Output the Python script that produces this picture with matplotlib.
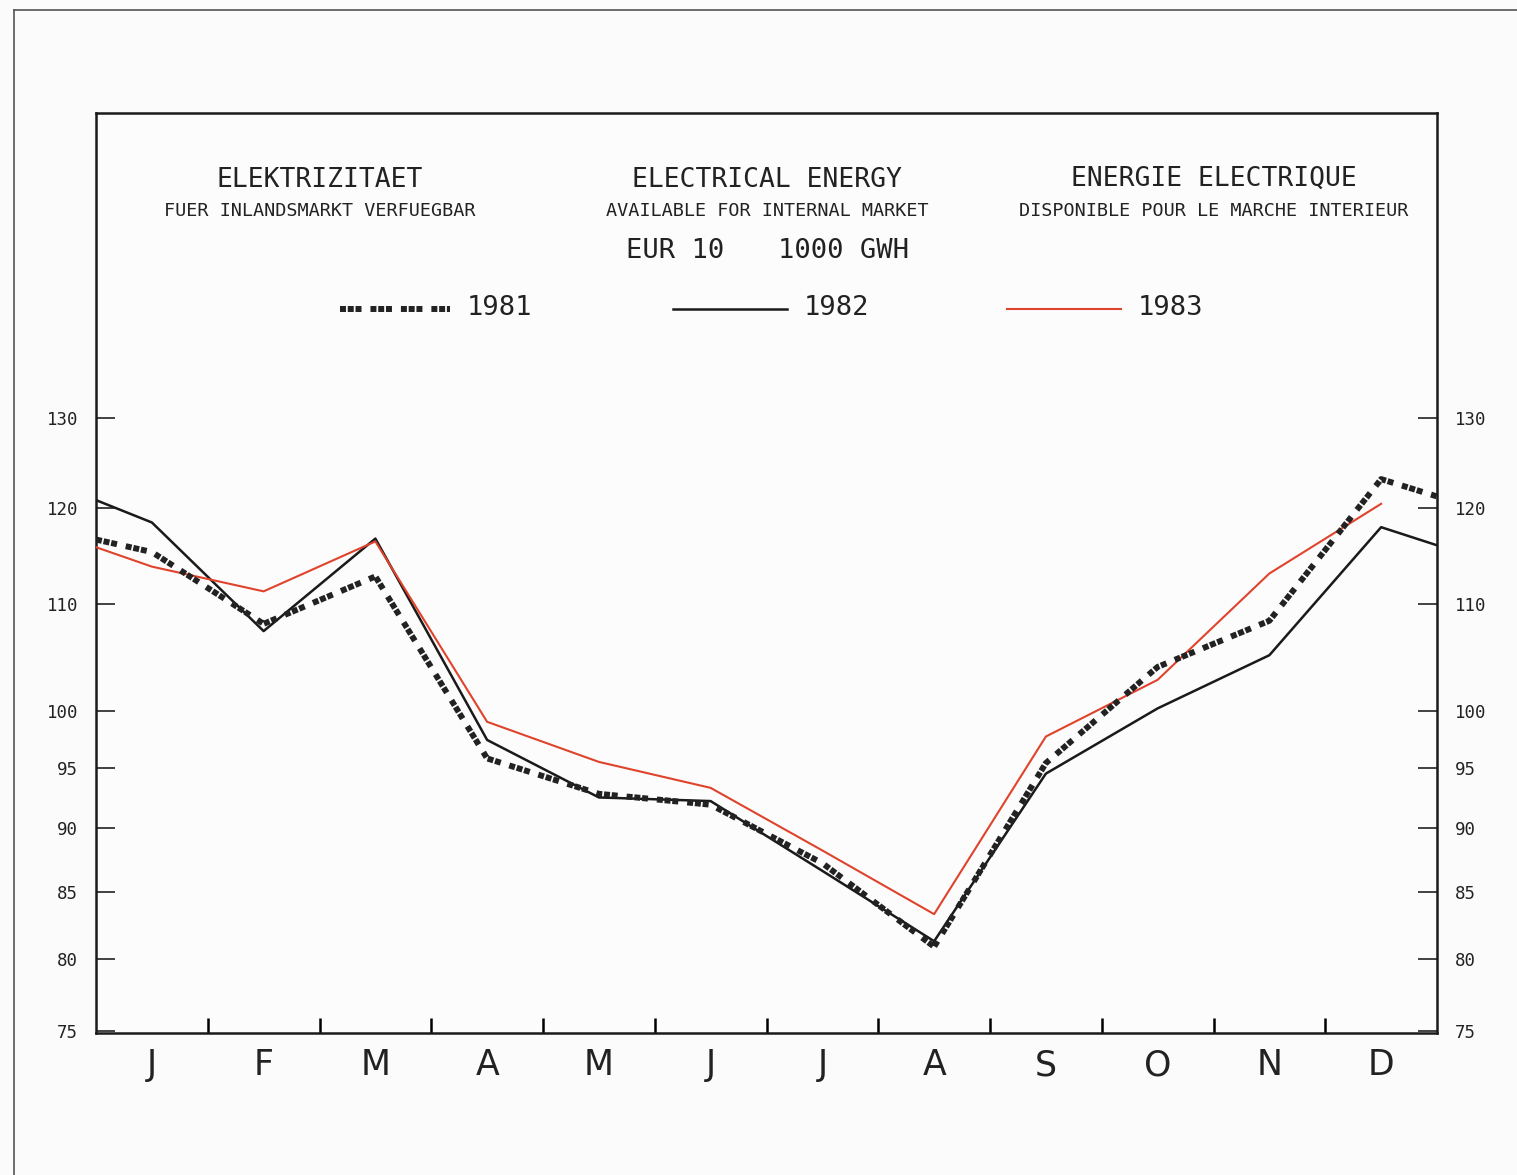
import numpy as np
import matplotlib.pyplot as plt
from matplotlib.lines import Line2D

# monthly values, EUR 10, 1000 GWh (log scale)
months = ["J", "F", "M", "A", "M", "J", "J", "A", "S", "O", "N", "D"]
v1981 = [115.3, 108.1, 112.8, 95.8, 92.8, 91.9, 87.2, 80.9, 95.4, 104.0, 108.4, 123.1]
v1982 = [118.4, 107.4, 116.7, 97.4, 92.5, 92.2, 86.6, 81.3, 94.5, 100.2, 105.1, 117.9]
v1983 = [113.8, 111.3, 116.4, 99.0, 95.5, 93.3, 88.2, 83.3, 97.7, 102.8, 113.1, 120.4]
# where the curves meet the left / right frame
edge1981 = [116.6, 121.2]
edge1982 = [120.8, 116.0]
edge1983 = [115.8]

yticks = [75, 80, 85, 90, 95, 100, 110, 120, 130]

W, H = 1517, 1175
fig = plt.figure(figsize=(W / 100, H / 100), dpi=100, facecolor="#fbfbfb")
mono = "DejaVu Sans Mono"

def fx(px):
    return px / W

def fy(py):
    return 1 - py / H

ax = fig.add_axes([fx(96), fy(1033), fx(1437) - fx(96), fy(113) - fy(1033)])
ax.set_facecolor("#fcfcfc")
ax.set_yscale("log")
ax.set_xlim(0, 12)
ax.set_ylim(74.87, 171)

mx = np.arange(12) + 0.5
x81 = np.concatenate([[0], mx, [12]])
x82 = x81
x83 = np.concatenate([[0], mx])

ax.plot(x82, [edge1982[0]] + v1982 + [edge1982[1]], color="#1a1a1a", lw=1.8, zorder=3)
ax.plot(x83, edge1983 + v1983, color="#e0432c", lw=1.5, zorder=4)
dash81 = (1.0, 0.3, 1.0, 0.3, 1.0, 1.5)
ax.plot(x81, [edge1981[0]] + v1981 + [edge1981[1]], color="#222222", lw=4.3,
        dashes=dash81, zorder=5)

# y axis, both sides
ax.set_yticks(yticks)
ax.set_yticklabels([str(t) for t in yticks], fontfamily=mono)
ax.yaxis.set_minor_locator(plt.NullLocator())
ax.tick_params(axis="y", which="major", direction="in", length=14, width=1.2,
               left=True, right=True, labelleft=True, labelright=True,
               labelsize=12.5, pad=13, colors="#222222")
for t in ax.get_yticklabels(which="both") + ax.yaxis.get_ticklabels(which="major"):
    t.set_fontfamily(mono)
for tk in ax.yaxis.get_major_ticks():
    tk.label2.set_fontfamily(mono)

# x axis: boundary ticks, month letters in between
ax.set_xticks(np.arange(1, 12))
ax.set_xticklabels([])
ax.set_xticks(mx, minor=True)
ax.set_xticklabels(months, minor=True)
ax.tick_params(axis="x", which="major", direction="in", length=11, width=1.8,
               top=False)
ax.tick_params(axis="x", which="minor", length=0, pad=11, labelsize=25,
               colors="#222222")

for s in ax.spines.values():
    s.set_linewidth(1.8)
    s.set_color("#1a1a1a")

# titles
tc = "#222222"
big, small = 19, 13.3
fig.text(fx(320), fy(180), "ELEKTRIZITAET", ha="center", va="center", fontsize=big, color=tc, family=mono)
fig.text(fx(320), fy(211), "FUER INLANDSMARKT VERFUEGBAR", ha="center", va="center", fontsize=small, color=tc, family=mono)
fig.text(fx(767), fy(180), "ELECTRICAL ENERGY", ha="center", va="center", fontsize=big, color=tc, family=mono)
fig.text(fx(767), fy(211), "AVAILABLE FOR INTERNAL MARKET", ha="center", va="center", fontsize=small, color=tc, family=mono)
fig.text(fx(1214), fy(179), "ENERGIE ELECTRIQUE", ha="center", va="center", fontsize=big, color=tc, family=mono)
fig.text(fx(1214), fy(211), "DISPONIBLE POUR LE MARCHE INTERIEUR", ha="center", va="center", fontsize=small, color=tc, family=mono)
fig.text(fx(675), fy(251), "EUR 10", ha="center", va="center", fontsize=19.5, color=tc, family=mono)
fig.text(fx(844), fy(251), "1000 GWH", ha="center", va="center", fontsize=19.5, color=tc, family=mono)

# legend drawn by hand
leg = [("1981", 340, 450, dict(color="#222222", lw=4.3, dashes=dash81)),
       ("1982", 673, 787, dict(color="#1a1a1a", lw=1.8)),
       ("1983", 1007, 1121, dict(color="#e0432c", lw=1.5))]
for lab, x0, x1, kw in leg:
    fig.add_artist(Line2D([fx(x0), fx(x1)], [fy(309), fy(309)], transform=fig.transFigure, **kw))
    fig.text(fx(x1 + 17), fy(308), lab, ha="left", va="center", fontsize=19.5, color=tc, family=mono)

# outer frame of the page
fig.add_artist(Line2D([fx(14), fx(14)], [fy(10), 0], transform=fig.transFigure, color="#555555", lw=1.2))
fig.add_artist(Line2D([fx(14), 1], [fy(10), fy(10)], transform=fig.transFigure, color="#555555", lw=1.2))

fig.savefig("out.png", dpi=100, facecolor=fig.get_facecolor())
